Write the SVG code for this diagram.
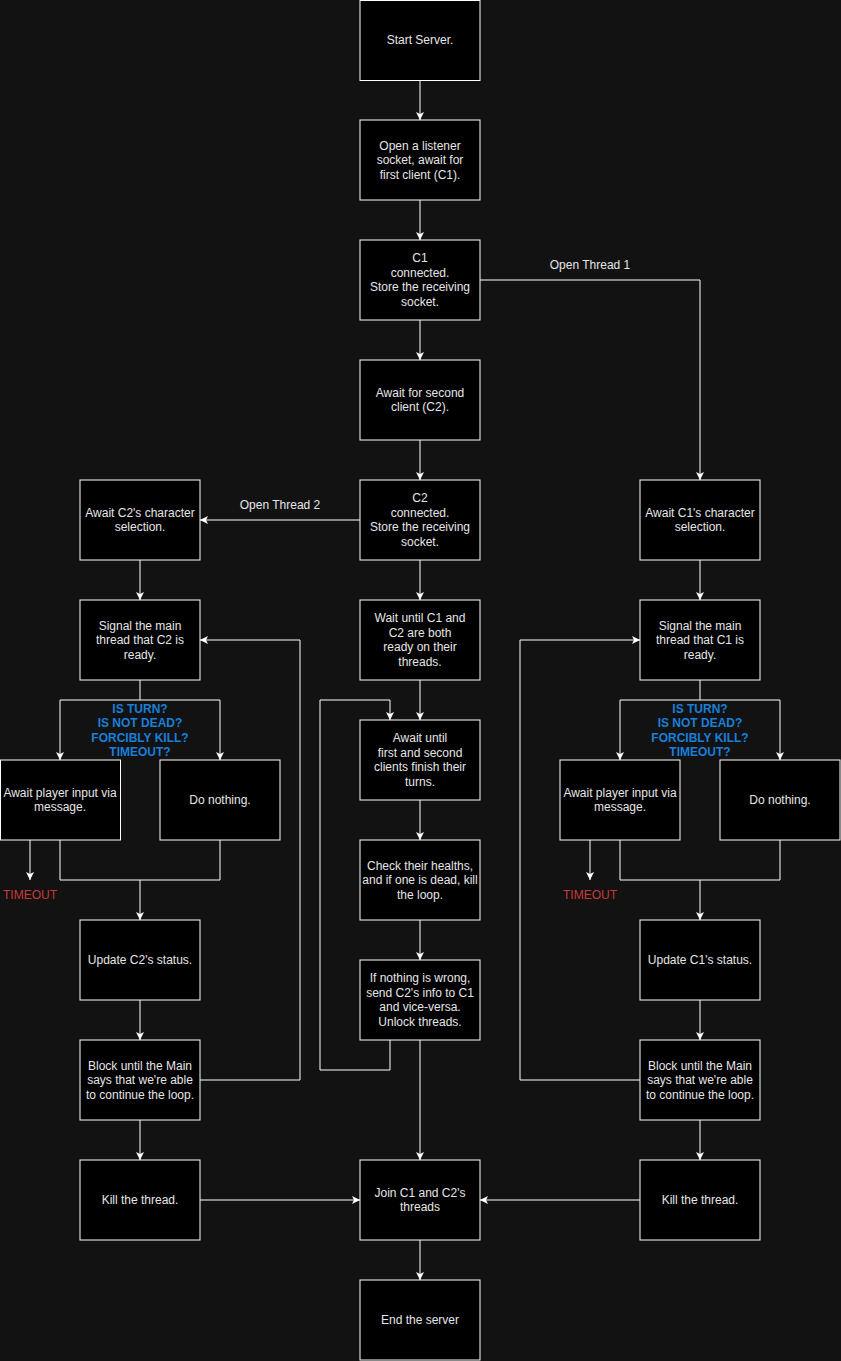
<svg xmlns="http://www.w3.org/2000/svg" width="841" height="1361" viewBox="0 0 841 1361">
<style>
.box{fill:#000;stroke:#fff;stroke-width:1}
.t{font-family:"Liberation Sans",Arial,sans-serif;font-size:12px;fill:#e6e6e6;text-anchor:middle}
.q{font-family:"Liberation Sans",Arial,sans-serif;font-size:12px;font-weight:bold;fill:#1a7fd9;text-anchor:middle}
.r{font-family:"Liberation Sans",Arial,sans-serif;font-size:12px;fill:#c93a3a;text-anchor:middle}
.c{fill:none;stroke:#fff;stroke-width:1}
.a{fill:none;stroke:#fff;stroke-width:1;marker-end:url(#ar)}
</style>
<defs>
<marker id="ar" markerUnits="userSpaceOnUse" markerWidth="10" markerHeight="10" refX="8" refY="4" orient="auto" viewBox="0 0 10 10">
<path d="M0,0 L8,4 L0,8 L2,4 Z" fill="#fff"/>
</marker>
</defs>
<rect x="0" y="0" width="841" height="1361" fill="#121212"/>
<g id="connectors">
<path class="a" d="M420,80V120"/>
<path class="a" d="M420,200V240"/>
<path class="a" d="M420,320V360"/>
<path class="a" d="M420,440V480"/>
<path class="a" d="M480,280H700V480"/>
<path class="a" d="M360,520H200"/>
<path class="a" d="M420,560V600"/>
<path class="a" d="M420,680V720"/>
<path class="a" d="M390,1040V1070H320V700H390V720"/>
<path class="a" d="M420,800V840"/>
<path class="a" d="M420,920V960"/>
<path class="a" d="M420,1040V1160"/>
<path class="a" d="M420,1240V1280"/>
<path class="a" d="M200,1200H360"/>
<path class="a" d="M640,1200H480"/>
<path class="a" d="M140,560V600"/>
<path class="c" d="M140,680V700"/>
<path class="a" d="M140,700H60V760"/>
<path class="a" d="M140,700H220V760"/>
<path class="c" d="M60,840V880H220V840"/>
<path class="a" d="M140,880V920"/>
<path class="a" d="M30,840V880"/>
<path class="a" d="M140,1000V1040"/>
<path class="a" d="M140,1120V1160"/>
<path class="a" d="M200,1080H300V640H200"/>
<path class="a" d="M700,560V600"/>
<path class="c" d="M700,680V700"/>
<path class="a" d="M700,700H620V760"/>
<path class="a" d="M700,700H780V760"/>
<path class="c" d="M620,840V880H780V840"/>
<path class="a" d="M700,880V920"/>
<path class="a" d="M590,840V880"/>
<path class="a" d="M700,1000V1040"/>
<path class="a" d="M700,1120V1160"/>
<path class="a" d="M640,1080H520V640H640"/>
</g>
<g id="labels">
<text class="t" x="590" y="269">Open Thread 1</text>
<text class="t" x="280" y="509">Open Thread 2</text>
<text class="q" x="140" y="713">IS TURN?</text>
<text class="q" x="140" y="727">IS NOT DEAD?</text>
<text class="q" x="140" y="742">FORCIBLY KILL?</text>
<text class="q" x="140" y="756">TIMEOUT?</text>
<text class="q" x="700" y="713">IS TURN?</text>
<text class="q" x="700" y="727">IS NOT DEAD?</text>
<text class="q" x="700" y="742">FORCIBLY KILL?</text>
<text class="q" x="700" y="756">TIMEOUT?</text>
<text class="r" x="30" y="899">TIMEOUT</text>
<text class="r" x="590" y="899">TIMEOUT</text>
</g>
<g id="n1"><rect class="box" x="360" y="0.5" width="120" height="80"/><text class="t" x="420" y="44">Start Server.</text></g>
<g id="n2"><rect class="box" x="360" y="120" width="120" height="80"/><text class="t" x="420" y="150">Open a listener</text><text class="t" x="420" y="164">socket, await for</text><text class="t" x="420" y="179">first client (C1).</text></g>
<g id="n3"><rect class="box" x="360" y="240" width="120" height="80"/><text class="t" x="420" y="262">C1</text><text class="t" x="420" y="277">connected.</text><text class="t" x="420" y="291">Store the receiving</text><text class="t" x="420" y="306">socket.</text></g>
<g id="n4"><rect class="box" x="360" y="360" width="120" height="80"/><text class="t" x="420" y="397">Await for second</text><text class="t" x="420" y="411">client (C2).</text></g>
<g id="n5"><rect class="box" x="360" y="480" width="120" height="80"/><text class="t" x="420" y="502">C2</text><text class="t" x="420" y="517">connected.</text><text class="t" x="420" y="531">Store the receiving</text><text class="t" x="420" y="546">socket.</text></g>
<g id="n6"><rect class="box" x="360" y="600" width="120" height="80"/><text class="t" x="420" y="622">Wait until C1 and</text><text class="t" x="420" y="637">C2 are both</text><text class="t" x="420" y="651">ready on their</text><text class="t" x="420" y="666">threads.</text></g>
<g id="n7"><rect class="box" x="360" y="720" width="120" height="80"/><text class="t" x="420" y="742">Await until</text><text class="t" x="420" y="757">first and second</text><text class="t" x="420" y="771">clients finish their</text><text class="t" x="420" y="786">turns.</text></g>
<g id="n8"><rect class="box" x="360" y="840" width="120" height="80"/><text class="t" x="420" y="870">Check their healths,</text><text class="t" x="420" y="884">and if one is dead, kill</text><text class="t" x="420" y="899">the loop.</text></g>
<g id="n9"><rect class="box" x="360" y="960" width="120" height="80"/><text class="t" x="420" y="982">If nothing is wrong,</text><text class="t" x="420" y="997">send C2's info to C1</text><text class="t" x="420" y="1011">and vice-versa.</text><text class="t" x="420" y="1026">Unlock threads.</text></g>
<g id="n10"><rect class="box" x="360" y="1160" width="120" height="80"/><text class="t" x="420" y="1197">Join C1 and C2's</text><text class="t" x="420" y="1211">threads</text></g>
<g id="n11"><rect class="box" x="360" y="1280" width="120" height="80"/><text class="t" x="420" y="1324">End the server</text></g>
<g id="l1"><rect class="box" x="80" y="480" width="120" height="80"/><text class="t" x="140" y="517">Await C2's character</text><text class="t" x="140" y="531">selection.</text></g>
<g id="l2"><rect class="box" x="80" y="600" width="120" height="80"/><text class="t" x="140" y="630">Signal the main</text><text class="t" x="140" y="644">thread that C2 is</text><text class="t" x="140" y="659">ready.</text></g>
<g id="l3"><rect class="box" x="0.5" y="760" width="120" height="80"/><text class="t" x="60" y="797">Await player input via</text><text class="t" x="60" y="811">message.</text></g>
<g id="l4"><rect class="box" x="160" y="760" width="120" height="80"/><text class="t" x="220" y="804">Do nothing.</text></g>
<g id="l5"><rect class="box" x="80" y="920" width="120" height="80"/><text class="t" x="140" y="964">Update C2's status.</text></g>
<g id="l6"><rect class="box" x="80" y="1040" width="120" height="80"/><text class="t" x="140" y="1070">Block until the Main</text><text class="t" x="140" y="1084">says that we're able</text><text class="t" x="140" y="1099">to continue the loop.</text></g>
<g id="l7"><rect class="box" x="80" y="1160" width="120" height="80"/><text class="t" x="140" y="1204">Kill the thread.</text></g>
<g id="r1"><rect class="box" x="640" y="480" width="120" height="80"/><text class="t" x="700" y="517">Await C1's character</text><text class="t" x="700" y="531">selection.</text></g>
<g id="r2"><rect class="box" x="640" y="600" width="120" height="80"/><text class="t" x="700" y="630">Signal the main</text><text class="t" x="700" y="644">thread that C1 is</text><text class="t" x="700" y="659">ready.</text></g>
<g id="r3"><rect class="box" x="560" y="760" width="120" height="80"/><text class="t" x="620" y="797">Await player input via</text><text class="t" x="620" y="811">message.</text></g>
<g id="r4"><rect class="box" x="720" y="760" width="120" height="80"/><text class="t" x="780" y="804">Do nothing.</text></g>
<g id="r5"><rect class="box" x="640" y="920" width="120" height="80"/><text class="t" x="700" y="964">Update C1's status.</text></g>
<g id="r6"><rect class="box" x="640" y="1040" width="120" height="80"/><text class="t" x="700" y="1070">Block until the Main</text><text class="t" x="700" y="1084">says that we're able</text><text class="t" x="700" y="1099">to continue the loop.</text></g>
<g id="r7"><rect class="box" x="640" y="1160" width="120" height="80"/><text class="t" x="700" y="1204">Kill the thread.</text></g>
</svg>
